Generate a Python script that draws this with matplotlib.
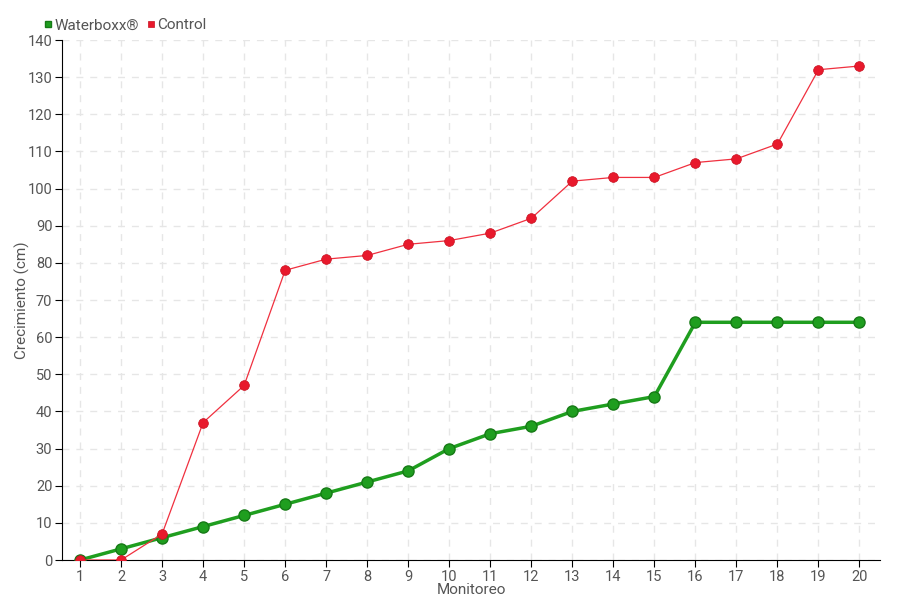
import matplotlib
matplotlib.use('Agg')
import matplotlib.pyplot as plt
import numpy as np

plt.rcParams['font.family'] = ['Roboto', 'DejaVu Sans']

monitoreo = np.arange(1, 21)
waterboxx = [0, 3, 6, 9, 12, 15, 18, 21, 24, 30, 34, 36, 40, 42, 44, 64, 64, 64, 64, 64]
control = [0, 0, 7, 37, 47, 78, 81, 82, 85, 86, 88, 92, 102, 103, 103, 107, 108, 112, 132, 133]

fig = plt.figure(figsize=(9, 6), dpi=100)
ax = fig.add_axes([62/900, 40/600, (880-62)/900, 520/600])

ax.plot(monitoreo, waterboxx, color='#1f9e1f', lw=2.5, marker='o', ms=8,
        mfc='#1f9e1f', mec='#167a16', mew=1, zorder=3, label='Waterboxx®')
ax.plot(monitoreo, control, color='#f0303f', lw=0.9, marker='o', ms=7,
        mfc='#e8192c', mec='#c81020', mew=0.5, zorder=4, label='Control')

ax.set_xlim(0.56, 20.5)
ax.set_ylim(0, 140)
ax.set_xticks(monitoreo)
ax.set_yticks(np.arange(0, 141, 10))
ax.grid(True, ls=(0, (5, 5)), color='#e6e6e6', lw=1)
ax.set_axisbelow(True)
for s in ['top', 'right']:
    ax.spines[s].set_visible(False)
ax.tick_params(direction='out', length=5, pad=2, colors='black', labelcolor='#555555', labelsize=10.5)
ax.set_xlabel('Monitoreo', color='#555555', fontsize=11)
ax.set_ylabel('Crecimiento (cm)', color='#555555', fontsize=11)
ax.xaxis.set_label_coords(0.5, -23/520, transform=ax.transAxes)
ax.yaxis.set_label_coords(-32/818, 0.5, transform=ax.transAxes)

ax.legend(loc='lower left', bbox_to_anchor=(-0.03, 1.0), ncol=2, frameon=False,
          handlelength=0.4, handletextpad=0.2, columnspacing=0.6, fontsize=11,
          labelcolor='#555555', markerscale=0.6, borderaxespad=0.1)
leg = ax.get_legend()
for h in leg.legend_handles:
    h.set_linestyle('None')
    h.set_marker('s')

fig.savefig('out.png', dpi=100)
